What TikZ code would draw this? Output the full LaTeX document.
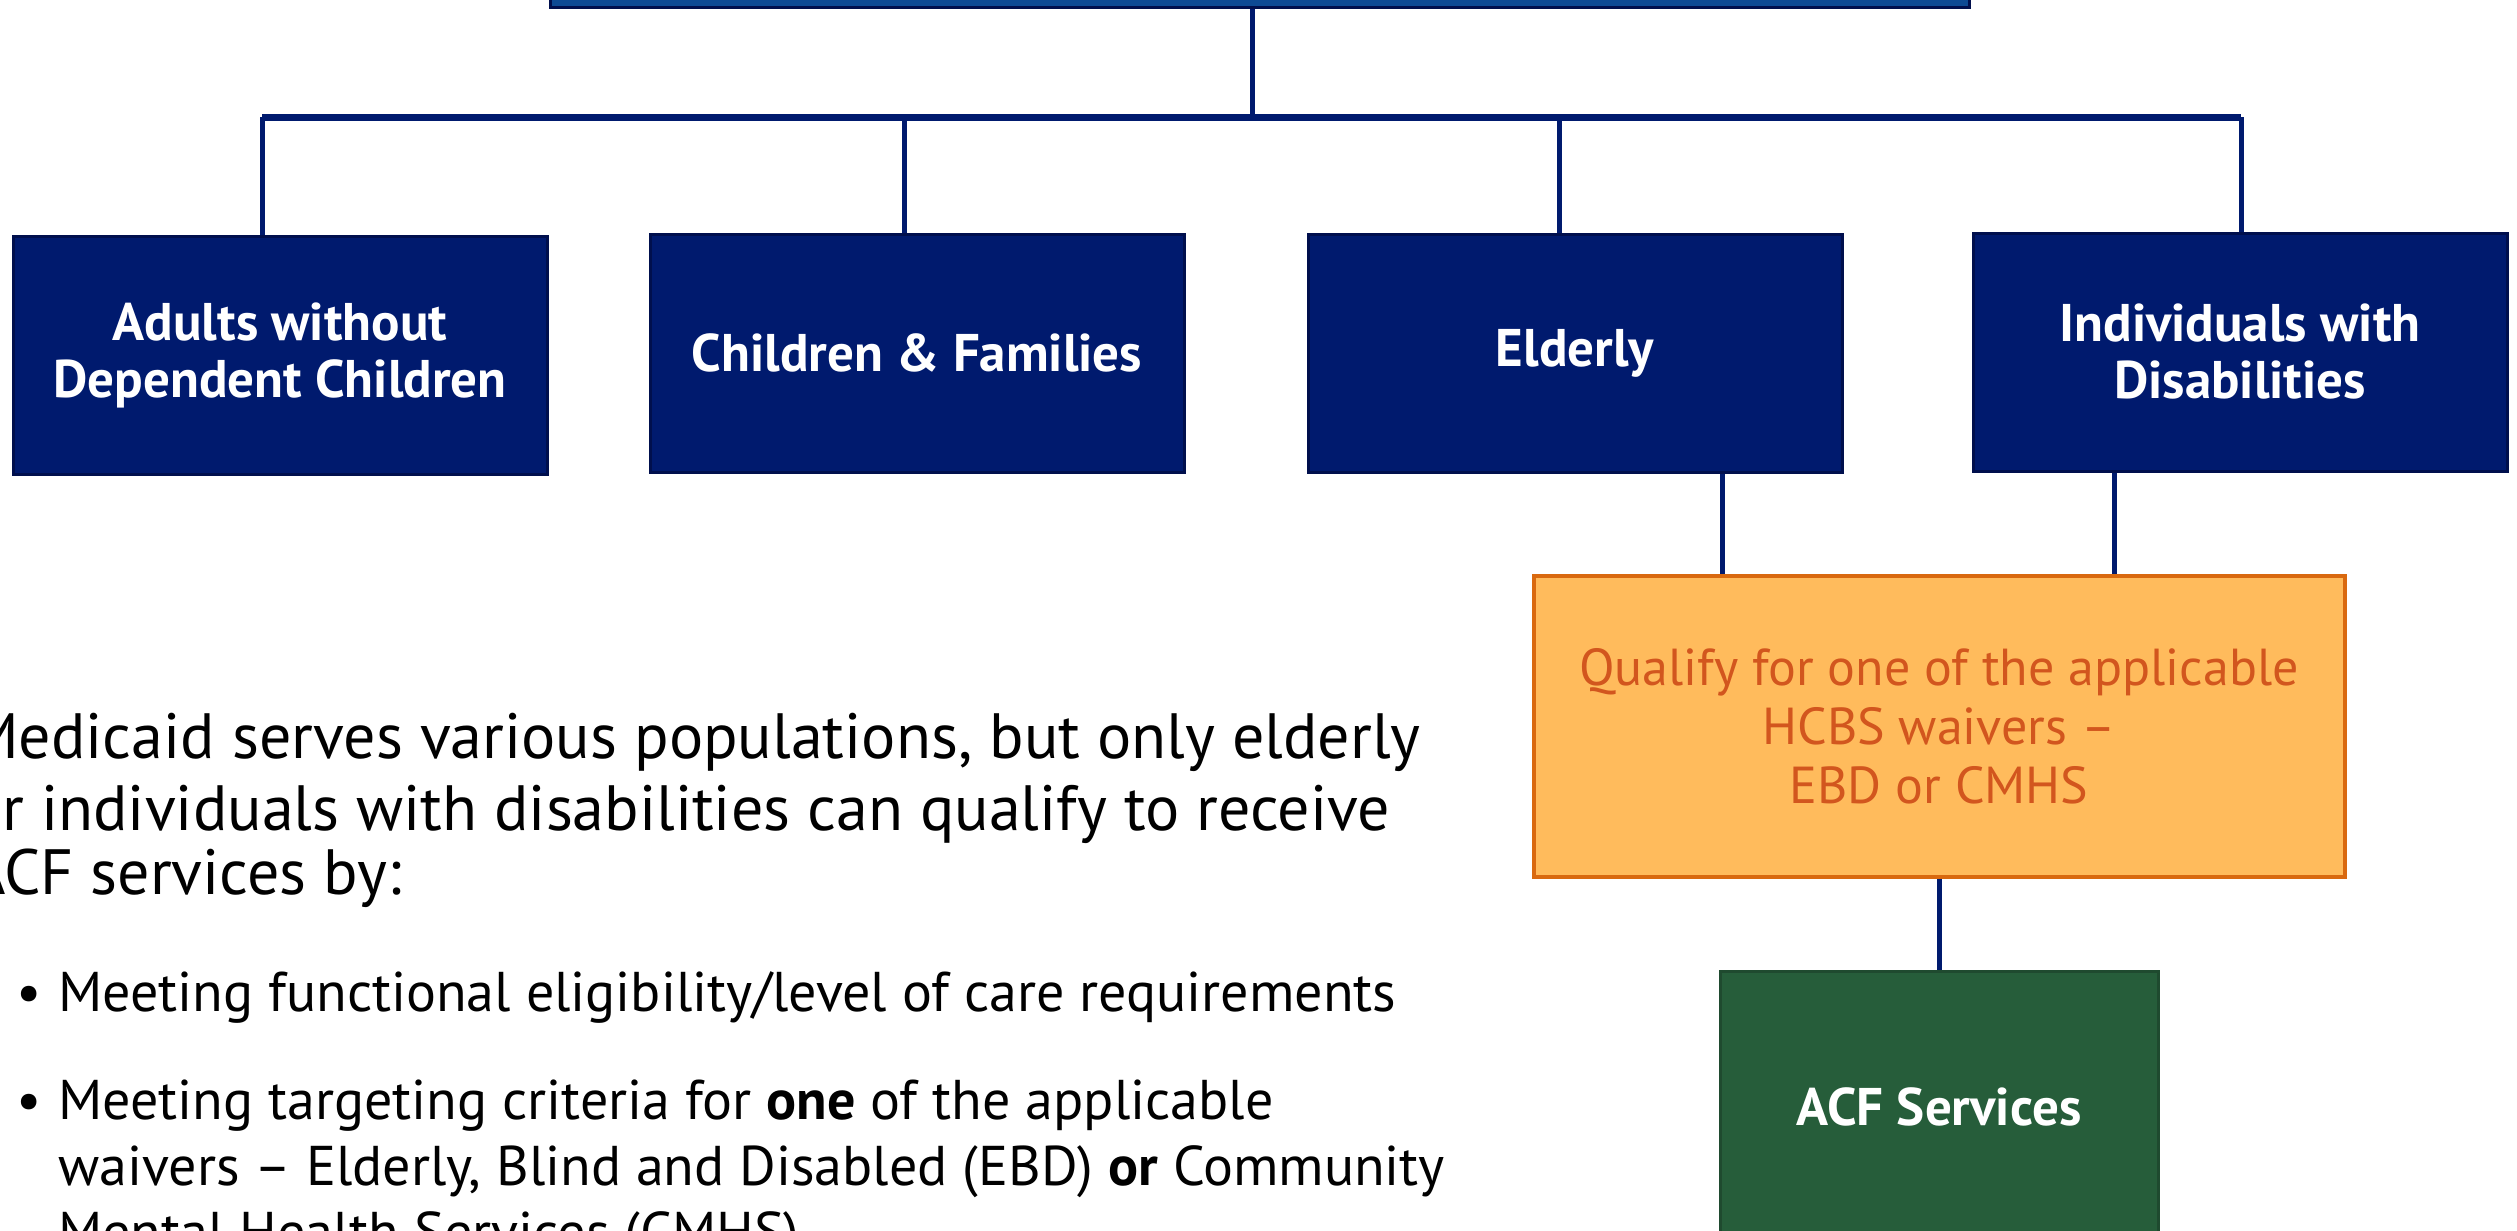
\documentclass[tikz,border=0pt]{standalone}
\usepackage{fontspec}
\setmainfont{PT Sans}
\usepackage{tikz}
\usetikzlibrary{positioning}

\definecolor{navy}{HTML}{001A6E}
\definecolor{navyedge}{HTML}{000F4D}
\definecolor{topblue}{HTML}{0D4A94}
\definecolor{waiverfill}{HTML}{FFBB5C}
\definecolor{waiveredge}{HTML}{D9690F}
\definecolor{waivertext}{HTML}{D2561E}
\definecolor{acfgreen}{HTML}{265D3A}
\definecolor{acfedge}{HTML}{1F4A2F}

\begin{document}
\begin{tikzpicture}[x=1pt, y=-1pt,
  popbox/.style = {draw=navyedge, fill=navy, line width=3pt, minimum width=534pt, minimum height=238pt,
    inner sep=0pt, text=white, align=center, font=\bfseries\fontsize{53}{57}\selectfont},
  link/.style = {draw=navy, line width=5pt},
  intro/.style = {anchor=base west, inner sep=0pt, font=\fontsize{64}{72}\selectfont},
  point/.style = {anchor=base west, inner sep=0pt, font=\fontsize{56}{66}\selectfont}]
\useasboundingbox (0,0) rectangle (2517,1231);

% program box (cut off at the top)
\node[draw=navyedge, fill=topblue, line width=3pt, minimum width=1419pt, minimum height=76pt] (top) at (1260,-30) {};

% population boxes
\node[popbox] (adults) at (280,355) {Adults without\\Dependent Children};
\node[popbox] (children) at (917,353) {Children \& Families};
\node[popbox] (elderly) at (1575,353) {Elderly};
\node[popbox] (disab) at (2240,352) {Individuals with\\Disabilities};

% waiver and services
\node[draw=waiveredge, fill=waiverfill, line width=4pt, minimum width=811pt, minimum height=301pt, inner sep=0pt,
  text=waivertext, align=center, font=\fontsize{52}{59}\selectfont] (waiver) at (1939,726)
  {Qualify for one of the applicable\\HCBS waivers --\\EBD or CMHS};
\node[draw=acfedge, fill=acfgreen, line width=3pt, minimum width=438pt, minimum height=272pt, inner sep=0pt,
  text=white, font=\bfseries\fontsize{53}{57}\selectfont] (acf) at (1939,1107) {ACF Services};

% tree lines
\coordinate (hub) at (1252,117);
\coordinate (barL) at (262,117);
\coordinate (barR) at (2241,117);
\draw[link] (top.south -| hub) -- (hub);
\draw[draw=navy, line width=7pt] (barL) -- (barR);
\foreach \x/\n in {262/adults, 904/children, 1559/elderly, 2241/disab} {
  \coordinate (d\n) at (\x,117);
  \draw[link] (d\n) -- (d\n |- \n.north);
}
\coordinate (e1) at (1722,0);
\coordinate (e2) at (2114,0);
\draw[link] (elderly.south -| e1) -- (waiver.north -| e1);
\draw[link] (disab.south -| e2) -- (waiver.north -| e2);
\draw[link] (waiver) -- (acf);

% text on the left
\node[intro] (intro1) at (-32,758) {Medicaid serves various populations, but only elderly};
\node[intro] (intro2) at (-32,830) {or individuals with disabilities can qualify to receive};
\node[intro] (intro3) at (-32,894) {ACF services by:};
\node[point] (pt1) at (58,1011) {\llap{\textbullet\hspace{16pt}}Meeting functional eligibility/level of care requirements};
\node[point] (pt2) at (58,1119) {\llap{\textbullet\hspace{16pt}}Meeting targeting criteria for \textbf{one} of the applicable};
\node[point] (pt3) at (58,1185) {waivers -- Elderly, Blind and Disabled (EBD) \textbf{or} Community};
\node[point] (pt4) at (58,1251) {Mental Health Services (CMHS)};
\end{tikzpicture}
\end{document}
